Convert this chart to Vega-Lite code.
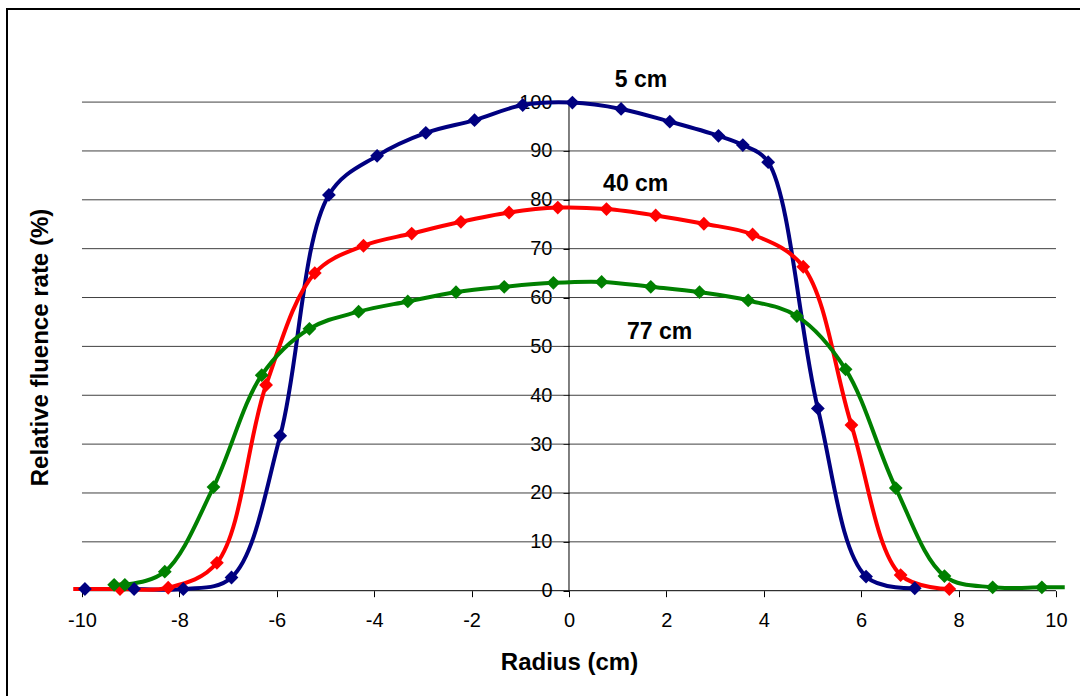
{
  "$schema": "https://vega.github.io/schema/vega-lite/v6.json",
  "width": 1078,
  "height": 691,
  "autosize": "none",
  "padding": {"left": 7, "top": 9, "right": 0, "bottom": 0},
  "background": "white",
  "config": {
    "view": {"stroke": "#000000", "strokeWidth": 2},
    "font": "Liberation Sans"
  },
  "datasets": {
    "series": [
      {"series": "5 cm", "x": -9.94, "y": 0.35},
      {"series": "5 cm", "x": -8.93, "y": 0.35},
      {"series": "5 cm", "x": -7.92, "y": 0.35},
      {"series": "5 cm", "x": -6.93, "y": 2.7},
      {"series": "5 cm", "x": -5.93, "y": 31.7},
      {"series": "5 cm", "x": -4.93, "y": 81.0},
      {"series": "5 cm", "x": -3.94, "y": 89.0},
      {"series": "5 cm", "x": -2.94, "y": 93.7},
      {"series": "5 cm", "x": -1.94, "y": 96.3},
      {"series": "5 cm", "x": -0.95, "y": 99.4},
      {"series": "5 cm", "x": 0.07, "y": 99.9},
      {"series": "5 cm", "x": 1.07, "y": 98.6},
      {"series": "5 cm", "x": 2.07, "y": 96.0},
      {"series": "5 cm", "x": 3.07, "y": 93.1},
      {"series": "5 cm", "x": 3.57, "y": 91.2},
      {"series": "5 cm", "x": 4.09, "y": 87.7},
      {"series": "5 cm", "x": 5.11, "y": 37.3},
      {"series": "5 cm", "x": 6.10, "y": 2.9},
      {"series": "5 cm", "x": 7.10, "y": 0.5},
      {"series": "40 cm", "x": -10.18, "y": 0.35},
      {"series": "40 cm", "x": -9.22, "y": 0.35},
      {"series": "40 cm", "x": -8.23, "y": 0.6},
      {"series": "40 cm", "x": -7.23, "y": 5.7},
      {"series": "40 cm", "x": -6.22, "y": 42.1},
      {"series": "40 cm", "x": -5.22, "y": 65.0},
      {"series": "40 cm", "x": -4.22, "y": 70.6},
      {"series": "40 cm", "x": -3.23, "y": 73.1},
      {"series": "40 cm", "x": -2.22, "y": 75.5},
      {"series": "40 cm", "x": -1.23, "y": 77.4},
      {"series": "40 cm", "x": -0.23, "y": 78.4},
      {"series": "40 cm", "x": 0.77, "y": 78.1},
      {"series": "40 cm", "x": 1.78, "y": 76.8},
      {"series": "40 cm", "x": 2.77, "y": 75.1},
      {"series": "40 cm", "x": 3.77, "y": 72.9},
      {"series": "40 cm", "x": 4.81, "y": 66.3},
      {"series": "40 cm", "x": 5.80, "y": 33.9},
      {"series": "40 cm", "x": 6.81, "y": 3.2},
      {"series": "40 cm", "x": 7.81, "y": 0.35},
      {"series": "77 cm", "x": -9.34, "y": 1.2},
      {"series": "77 cm", "x": -9.12, "y": 1.2},
      {"series": "77 cm", "x": -8.30, "y": 3.9},
      {"series": "77 cm", "x": -7.30, "y": 21.2},
      {"series": "77 cm", "x": -6.31, "y": 44.1},
      {"series": "77 cm", "x": -5.33, "y": 53.6},
      {"series": "77 cm", "x": -4.32, "y": 57.1},
      {"series": "77 cm", "x": -3.31, "y": 59.2},
      {"series": "77 cm", "x": -2.32, "y": 61.1},
      {"series": "77 cm", "x": -1.33, "y": 62.2},
      {"series": "77 cm", "x": -0.32, "y": 63.0},
      {"series": "77 cm", "x": 0.67, "y": 63.2},
      {"series": "77 cm", "x": 1.68, "y": 62.2},
      {"series": "77 cm", "x": 2.68, "y": 61.1},
      {"series": "77 cm", "x": 3.68, "y": 59.4},
      {"series": "77 cm", "x": 4.68, "y": 56.2},
      {"series": "77 cm", "x": 5.68, "y": 45.3},
      {"series": "77 cm", "x": 6.71, "y": 21.0},
      {"series": "77 cm", "x": 7.71, "y": 3.0},
      {"series": "77 cm", "x": 8.70, "y": 0.7},
      {"series": "77 cm", "x": 9.71, "y": 0.7},
      {"series": "77 cm", "x": 10.18, "y": 0.7}
    ],
    "grid": [
      {"g": 10}, {"g": 20}, {"g": 30}, {"g": 40}, {"g": 50},
      {"g": 60}, {"g": 70}, {"g": 80}, {"g": 90}, {"g": 100}
    ],
    "labels": [
      {"label": "5 cm", "x": 1.48, "y": 104.5},
      {"label": "40 cm", "x": 1.37, "y": 83.2},
      {"label": "77 cm", "x": 1.86, "y": 53.0}
    ]
  },
  "encoding": {
    "x": {
      "type": "quantitative",
      "scale": {"domain": [-11.54, 10.596], "nice": false, "zero": false},
      "axis": {
        "orient": "bottom",
        "offset": -109.3,
        "values": [-10, -8, -6, -4, -2, 0, 2, 4, 6, 8, 10],
        "labelExpr": "'' + datum.value",
        "domain": false,
        "grid": false,
        "ticks": true,
        "tickSize": 6,
        "tickColor": "#000000",
        "tickWidth": 1,
        "labelFontSize": 20,
        "labelColor": "#000000",
        "labelPadding": 14,
        "labelFont": "Liberation Sans",
        "title": "Radius (cm)",
        "titleFont": "Liberation Sans",
        "titleFontSize": 24,
        "titleFontWeight": "bold",
        "titleColor": "#000000",
        "titleX": 562,
        "titleY": 71.3,
        "titleBaseline": "middle",
        "titleAlign": "center"
      }
    },
    "y": {
      "type": "quantitative",
      "scale": {"domain": [-22.37, 119.05], "nice": false, "zero": false},
      "axis": {
        "orient": "left",
        "offset": -562,
        "values": [0, 10, 20, 30, 40, 50, 60, 70, 80, 90, 100],
        "domain": false,
        "grid": false,
        "tickSize": 6,
        "tickColor": "#000000",
        "tickWidth": 1,
        "labelFontSize": 20,
        "labelColor": "#000000",
        "labelPadding": 11,
        "labelFont": "Liberation Sans",
        "title": "Relative fluence rate (%)",
        "titleFont": "Liberation Sans",
        "titleFontSize": 24,
        "titleFontWeight": "bold",
        "titleColor": "#000000",
        "titleX": -529,
        "titleY": 338,
        "titleAngle": 270,
        "titleBaseline": "middle",
        "titleAlign": "center"
      }
    }
  },
  "layer": [
    {
      "data": {"name": "grid"},
      "mark": {"type": "rule", "color": "#404040", "strokeWidth": 1},
      "encoding": {
        "x": {"datum": -10},
        "x2": {"datum": 10},
        "y": {"field": "g", "type": "quantitative"}
      }
    },
    {
      "data": {"values": [{"a": 0}]},
      "mark": {"type": "rule", "color": "#000000", "strokeWidth": 1},
      "encoding": {
        "x": {"datum": -10},
        "x2": {"datum": 10},
        "y": {"field": "a", "type": "quantitative"}
      }
    },
    {
      "data": {"values": [{"a": 0}]},
      "mark": {"type": "rule", "color": "#000000", "strokeWidth": 1},
      "encoding": {
        "x": {"field": "a", "type": "quantitative"},
        "y": {"datum": 0},
        "y2": {"datum": 100}
      }
    },
    {
      "data": {"name": "series"},
      "mark": {"type": "line", "interpolate": "catmull-rom", "strokeWidth": 4, "clip": false},
      "encoding": {
        "x": {"field": "x", "type": "quantitative"},
        "y": {"field": "y", "type": "quantitative"},
        "color": {
          "field": "series",
          "type": "nominal",
          "scale": {"domain": ["5 cm", "40 cm", "77 cm"], "range": ["#000080", "#FF0000", "#008000"]},
          "legend": null
        }
      }
    },
    {
      "data": {"name": "series"},
      "transform": [{"filter": "datum.x >= -10 && datum.x <= 10"}],
      "mark": {"type": "point", "shape": "diamond", "filled": true, "size": 190, "opacity": 1},
      "encoding": {
        "x": {"field": "x", "type": "quantitative"},
        "y": {"field": "y", "type": "quantitative"},
        "color": {"field": "series", "type": "nominal", "legend": null}
      }
    },
    {
      "data": {"name": "labels"},
      "mark": {"type": "text", "font": "Liberation Sans", "fontWeight": "bold", "fontSize": 23, "align": "center", "baseline": "middle", "color": "#000000"},
      "encoding": {
        "x": {"field": "x", "type": "quantitative"},
        "y": {"field": "y", "type": "quantitative"},
        "text": {"field": "label"}
      }
    }
  ]
}
